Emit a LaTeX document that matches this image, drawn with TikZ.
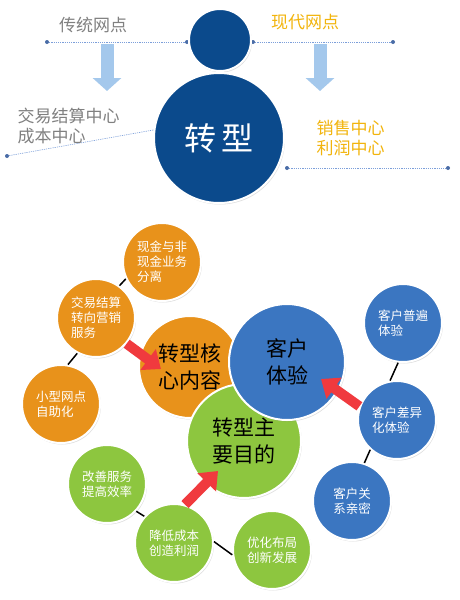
\documentclass[tikz,border=0pt]{standalone}
\usepackage{fontspec}
\setmainfont{Noto Sans CJK SC}
\usetikzlibrary{arrows.meta,shadows}
\definecolor{deepblue}{HTML}{0B4A8C}
\definecolor{ballorange}{HTML}{E8921B}
\definecolor{ballblue}{HTML}{3B76C1}
\definecolor{ballgreen}{HTML}{8DC63F}
\definecolor{arrowred}{HTML}{F03A3E}
\definecolor{paleblue}{HTML}{A4C8EC}
\definecolor{dotblue}{HTML}{5B87D0}
\definecolor{textgray}{HTML}{808080}
\definecolor{textgold}{HTML}{F2B40C}
\tikzset{
  ball/.style={circle,draw=white,line width=2pt,inner sep=0pt,
    drop shadow={opacity=0.25,shadow xshift=1pt,shadow yshift=-1.5pt}},
  smallball/.style={ball,minimum size=78pt,text=white,align=left,
    font=\fontsize{12.5}{15}\selectfont},
  bigball/.style={ball,align=left,font=\fontsize{21}{27}\selectfont},
  endpt/.style={circle,fill=dotblue!80!black,inner sep=0pt,minimum size=4pt},
  dotline/.style={dotblue!80,line width=0.6pt,dash pattern=on 1.2pt off 1pt},
  downarrow/.style={paleblue,line width=13pt,-{Triangle[width=28pt,length=13pt]}},
  redarrow/.style={arrowred,line width=10pt,-{Triangle[width=25pt,length=16pt]}},
  link/.style={black,line width=1.5pt}
}
\begin{document}
\begin{tikzpicture}[x=1pt,y=-1pt]
  \useasboundingbox[fill=white] (0,0) rectangle (460,600);

  \node[endpt] (l1) at (47,42) {};
  \node[endpt] (l2) at (187,42) {};
  \node[endpt] (r1) at (253,42) {};
  \node[endpt] (r2) at (393,42) {};
  \node[endpt] (l3) at (7,156) {};
  \node[endpt] (r3) at (287,168) {};
  \node[endpt] (r4) at (448,168) {};
  \draw (l1) -- (l2)[dotline];
  \draw (r1) -- (r2)[dotline];
  \draw (r3) -- (r4)[dotline];

  \node[ball,fill=deepblue,minimum size=62pt] (top) at (220,40) {};
  \node[ball,fill=deepblue,minimum size=130pt,text=white,
        font=\fontsize{32}{36}\selectfont] (zx) at (219,138) {转\,型};
  \draw (l3) -- (zx.173)[dotline];

  \node[text=textgray,font=\fontsize{17}{20}\selectfont] (ct) at (93,25) {传统网点};
  \node[text=textgold,font=\fontsize{17}{20}\selectfont] (xd) at (305,22) {现代网点};
  \node[text=textgray,anchor=west,align=left,
        font=\fontsize{17}{19.5}\selectfont] (jy) at (14,126) {交易结算中心\\成本中心};
  \node[text=textgold,anchor=west,align=left,
        font=\fontsize{17}{20}\selectfont] (xs) at (313,138) {销售中心\\利润中心};

  \coordinate (la) at (107,44);
  \coordinate (lb) at (107,91);
  \coordinate (ra) at (320,44);
  \coordinate (rb) at (320,91);
  \draw (la) -- (lb)[downarrow];
  \draw (ra) -- (rb)[downarrow];

  \node[smallball,fill=ballorange] (xj) at (162,262) {现金与非\\现金业务\\分离};
  \node[smallball,fill=ballorange] (jz) at (96,318) {交易结算\\转向营销\\服务};
  \node[smallball,fill=ballorange] (xx) at (61,404) {小型网点\\自助化};
  \draw (xj.205) -- (jz.54)[link];
  \draw (jz.242) -- (xx.80)[link];

  \node[smallball,fill=ballblue] (pb) at (403,323) {客户普遍\\体验};
  \node[smallball,fill=ballblue] (cy) at (397,420) {客户差异\\化体验};
  \node[smallball,fill=ballblue] (gx) at (352,501) {客户关\\系亲密};
  \draw (pb.263) -- (cy.100)[link];
  \draw (cy.228) -- (gx.72)[link];

  \node[smallball,fill=ballgreen] (gs) at (107,484) {改善服务\\提高效率};
  \node[smallball,fill=ballgreen] (jd) at (174,543) {降低成本\\创造利润};
  \node[smallball,fill=ballgreen] (yh) at (272,550) {优化布局\\创新发展};
  \draw (gs.317) -- (jd.138)[link];
  \draw (jd.2) -- (yh.187)[link];

  \node[bigball,fill=ballorange,minimum size=102pt] (hx) at (190,367) {转型核\\心内容};
  \node[bigball,fill=ballgreen,minimum size=114pt] (md) at (244,441) {转型主\\要目的};
  \node[bigball,fill=ballblue,minimum size=116pt] (ty) at (287,362) {客户\\体验};

  \coordinate (t1) at (161,369);
  \coordinate (t2) at (321,379);
  \coordinate (t3) at (218,471);
  \draw (jz.-40) -- (t1)[redarrow];
  \draw (cy.160) -- (t2)[redarrow];
  \draw (jd.74) -- (t3)[redarrow];
\end{tikzpicture}
\end{document}
